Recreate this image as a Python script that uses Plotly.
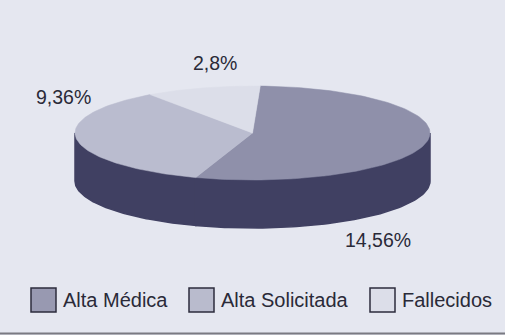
import numpy as np
import plotly.graph_objects as go

# ---- data ----
categories = ["Alta Médica", "Alta Solicitada", "Fallecidos"]
values = [14.56, 9.36, 2.8]
labels = [str(v).replace(".", ",") + "%" for v in values]

# ---- styles ----
top_colors = ["#8f90aa", "#babccf", "#dcdee9"]
legend_colors = ["#9899b1", "#b9bbcd", "#dcdee9"]
side_color = "#404062"
text_color = "#2a2a38"
bg = "#e5e7f0"

W, H = 505, 335
cx, cy, rx, ry, depth = 252.5, 133.0, 177.5, 47.0, 48.0
start_deg = 2.5

def pt(theta_deg, dy=0.0):
    t = np.radians(theta_deg)
    return cx + rx * np.sin(t), cy - ry * np.cos(t) + dy

total = float(sum(values))
bounds = [start_deg]
for v in values:
    bounds.append(bounds[-1] + 360.0 * v / total)

fig = go.Figure()

# sides (front half only: 90..270 deg clockwise from top)
for i in range(len(values)):
    a0, a1 = bounds[i], bounds[i + 1]
    for off in (0.0, 360.0, -360.0):
        s0, s1 = max(a0 + off, 90.0), min(a1 + off, 270.0)
        if s1 <= s0:
            continue
        th = np.linspace(s0, s1, 80)
        xt, yt = pt(th)
        xb, yb = pt(th[::-1], depth)
        fig.add_trace(go.Scatter(
            x=np.concatenate([xt, xb, xt[:1]]), y=np.concatenate([yt, yb, yt[:1]]),
            mode="lines", fill="toself", fillcolor=side_color,
            line=dict(color=side_color, width=1.5), hoverinfo="skip", showlegend=False))

# top faces
for i in range(len(values)):
    th = np.linspace(bounds[i], bounds[i + 1], 120)
    xa, ya = pt(th)
    fig.add_trace(go.Scatter(
        x=np.concatenate([[cx], xa, [cx]]), y=np.concatenate([[cy], ya, [cy]]),
        mode="lines", fill="toself", fillcolor=top_colors[i],
        line=dict(color=top_colors[i], width=0.5), hoverinfo="skip", showlegend=False,
        name=categories[i]))

# value labels
label_pos = [(378, 240), (63, 97), (215, 63)]
for lab, (lx, ly) in zip(labels, label_pos):
    fig.add_annotation(x=lx, y=ly, text=lab, showarrow=False, xref="x", yref="y",
                       font=dict(family="Liberation Sans, Arial", size=19.5, color=text_color))

# legend (drawn)
box_x = [31, 189, 370]
for i, name in enumerate(categories):
    fig.add_shape(type="rect", xref="x", yref="y", x0=box_x[i], x1=box_x[i] + 25, y0=288, y1=312,
                  fillcolor=legend_colors[i], line=dict(color="#2c2c3c", width=1.5))
    fig.add_annotation(x=box_x[i] + 30, y=300, text=name, showarrow=False, xanchor="left",
                       xref="x", yref="y",
                       font=dict(family="Liberation Sans, Arial", size=20, color=text_color))

# bottom border line
fig.add_shape(type="line", xref="x", yref="y", x0=0, x1=W, y0=333.5, y1=333.5,
              line=dict(color="#7a7a82", width=2))

fig.update_layout(
    width=W, height=H, margin=dict(l=0, r=0, t=0, b=0),
    paper_bgcolor=bg, plot_bgcolor=bg, showlegend=False,
    xaxis=dict(range=[0, W], visible=False, fixedrange=True),
    yaxis=dict(range=[H, 0], visible=False, fixedrange=True),
)

fig.write_html("out.html", config={"displayModeBar": False})
